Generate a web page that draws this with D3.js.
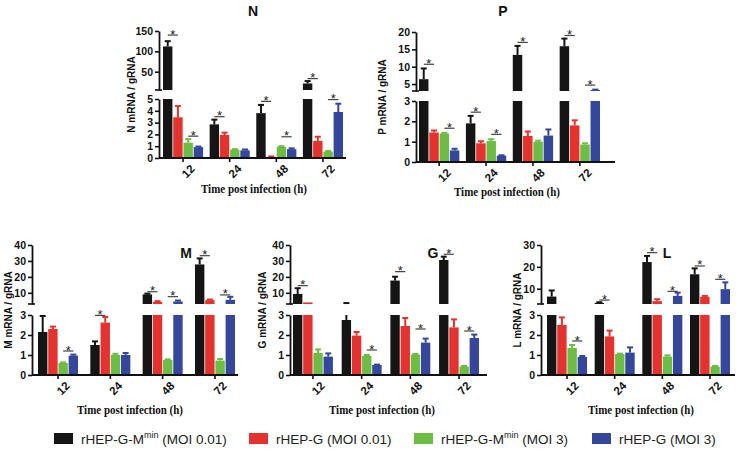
<!DOCTYPE html>
<html><head><meta charset="utf-8">
<script src="https://cdn.jsdelivr.net/npm/d3@7"></script>
<style>
body{margin:0;background:#fff}
</style>
</head><body>
<svg id="c" width="745" height="452" style="font-family:Arial,'Liberation Sans',sans-serif"></svg>
<script>
// ---------------- data ----------------
const categories = ['12','24','48','72'];
const seriesBase = ['rHEP-G-M','rHEP-G','rHEP-G-M','rHEP-G'];
const seriesSup  = ['min','','min',''];
const seriesMoi  = [' (MOI 0.01)',' (MOI 0.01)',' (MOI 3)',' (MOI 3)'];
const seriesColors = ['#151515','#e4322e','#6dbd45','#35479a'];

// mean values per series: [black, red, green, blue], each over categories 12/24/48/72
const N_mean   = [[112,2.85,3.8,21],[3.45,1.95,0.1,1.45],[1.3,0.7,0.95,0.55],[0.92,0.65,0.75,3.9]];
const N_errTop = [[125,3.25,4.5,27],[4.4,2.15,0.13,1.8],[1.6,0.75,1.0,0.6],[0.97,0.72,0.82,4.6]];
const N_stars  = [[0,0,1,140],[0,2,3,1.85],[1,0,1,3.5],[2,0,1,4.8],[2,2,3,1.8],[3,0,1,33],[3,2,3,4.95]];
const N_lowTicks = [0,1,2,3,4,5];
const N_upTicks  = [50,100,150];

const P_mean   = [[6.4,1.9,13.4,15.9],[1.45,0.92,1.28,1.8],[1.4,1.03,1.0,0.86],[0.57,0.31,1.3,3.3]];
const P_errTop = [[9.5,2.27,16,18.1],[1.55,1.02,1.5,2.05],[1.43,1.12,1.05,0.92],[0.65,0.33,1.6,3.4]];
const P_stars  = [[0,0,1,10.7],[0,2,3,1.66],[1,0,1,2.45],[1,2,3,1.36],[2,0,1,17],[3,0,1,19],[3,2,3,4.7]];
const P_lowTicks = [0,1,2,3];
const P_upTicks  = [5,10,15,20];

const M_mean   = [[2.15,1.5,9.0,27.8],[2.3,2.62,4.3,5.4],[0.6,1.0,0.75,0.72],[0.97,1.0,4.6,5.6]];
const M_errTop = [[2.95,1.68,9.5,31.6],[2.42,2.9,4.8,5.8],[0.63,1.06,0.78,0.8],[1.02,1.1,5.2,7.5]];
const M_stars  = [[0,2,3,1.2],[1,0,1,2.98],[2,0,1,10.7],[2,2,3,7.6],[3,0,1,33.3],[3,2,3,8.7]];
const M_lowTicks = [0,1,2,3];
const M_upTicks  = [10,20,30,40];

const G_mean   = [[9.3,2.75,17.7,30.6],[4.0,1.97,2.45,2.38],[1.1,0.95,1.02,0.42],[0.92,0.5,1.62,1.85]];
const G_errTop = [[12.9,3.6,20.1,32.7],[4.0,2.15,2.85,2.78],[1.28,1.0,1.05,0.45],[1.08,0.52,1.82,2.02]];
const G_stars  = [[0,0,1,14.5],[1,2,3,1.25],[2,0,1,23.3],[2,2,3,2.3],[3,0,1,34.2],[3,2,3,2.2]];
const G_lowTicks = [0,1,2,3];
const G_upTicks  = [10,20,30,40];

const L_mean   = [[6.4,3.5,22.2,16.6],[2.5,1.93,4.3,6.3],[1.35,1.05,0.92,0.42],[0.9,1.12,6.7,9.8]];
const L_errTop = [[9.2,3.8,25,19.3],[2.88,2.22,5.2,6.7],[1.5,1.07,0.98,0.45],[0.95,1.38,8.2,12.9]];
const L_stars  = [[0,2,3,1.7],[1,0,1,4.8],[2,0,1,26.5],[2,2,3,8.8],[3,0,1,20.4],[3,2,3,14.3]];
const L_lowTicks = [0,1,2,3];
const L_upTicks  = [10,20,30];

// ---------------- layout ----------------
const panels = [
  {title:'N', ylab:'N mRNA / gRNA', mean:N_mean, err:N_errTop, stars:N_stars, lowTicks:N_lowTicks, upTicks:N_upTicks,
   low:[0,5], up:[5,150], axisX:159, axisEnd:346, bandL:163, bandR:343, pi:0.14,
   lowTop:99, lowBot:158, upTop:31, upBot:90, tx:253, ty:16, ytx:131, xtx:254, xty:193},
  {title:'P', ylab:'P mRNA / gRNA', mean:P_mean, err:P_errTop, stars:P_stars, lowTicks:P_lowTicks, upTicks:P_upTicks,
   low:[0,3], up:[3,20], axisX:416, axisEnd:615, bandL:419, bandR:600, pi:0.14,
   lowTop:101, lowBot:162, upTop:32, upBot:91, tx:503, ty:16, ytx:382, xtx:507, xty:196},
  {title:'M', ylab:'M mRNA / gRNA', mean:M_mean, err:M_errTop, stars:M_stars, lowTicks:M_lowTicks, upTicks:M_upTicks,
   low:[0,3], up:[3,40], axisX:32, axisEnd:238, bandL:38, bandR:235, pi:0.235,
   lowTop:315, lowBot:375, upTop:245, upBot:304, tx:186, ty:258, ytx:8, xtx:130, xty:414},
  {title:'G', ylab:'G mRNA / gRNA', mean:G_mean, err:G_errTop, stars:G_stars, lowTicks:G_lowTicks, upTicks:G_upTicks,
   low:[0,3], up:[3,40], axisX:290, axisEnd:487, bandL:293, bandR:479, pi:0.18,
   lowTop:315, lowBot:375, upTop:245, upBot:304, tx:433, ty:258, ytx:262, xtx:382, xty:414},
  {title:'L', ylab:'L mRNA / gRNA', mean:L_mean, err:L_errTop, stars:L_stars, lowTicks:L_lowTicks, upTicks:L_upTicks,
   low:[0,3], up:[3,30], axisX:541, axisEnd:735, bandL:547, bandR:730, pi:0.16,
   lowTop:315, lowBot:375, upTop:245, upBot:304, tx:667, ty:258, ytx:517, xtx:641, xty:414}
];

const svg = d3.select('#c');
const fmt = d3.format('d');

function styleAxis(sel){
  sel.selectAll('path.domain').attr('stroke','#111').attr('stroke-width',1.8);
  sel.selectAll('.tick line').attr('stroke','#111').attr('stroke-width',1.6);
  sel.selectAll('.tick text').attr('font-size',10.5).attr('font-weight','bold').attr('fill','#111')
     .style('font-family','Arial,"Liberation Sans",sans-serif');
}

function drawPanel(p){
  const g = svg.append('g');
  const yL = d3.scaleLinear().domain(p.low).range([p.lowBot,p.lowTop]);
  const yU = d3.scaleLinear().domain(p.up).range([p.upBot,p.upTop]);
  const x = d3.scaleBand().domain(categories).range([p.bandL,p.bandR]).paddingInner(p.pi).paddingOuter(0);
  const xs = d3.scaleBand().domain(d3.range(4)).range([0,x.bandwidth()]).paddingInner(0.08);
  const Lmax = p.low[1], Umin = p.up[0];
  const bw = xs.bandwidth();
  const cx = (gi,s)=> x(categories[gi]) + xs(s) + bw/2;

  // bars
  p.mean.forEach((vals,s)=>{
    vals.forEach((v,gi)=>{
      const col = seriesColors[s];
      const x0 = x(categories[gi]) + xs(s);
      const yl = yL(Math.min(v,Lmax));
      g.append('rect').attr('x',x0).attr('y',yl).attr('width',bw).attr('height',p.lowBot-yl).attr('fill',col);
      if(v>Lmax){
        const yu = yU(v);
        g.append('rect').attr('x',x0).attr('y',yu).attr('width',bw).attr('height',p.upBot-yu).attr('fill',col);
      }
      const e = p.err[s][gi];
      const c = cx(gi,s), cap = bw*0.32;
      if(e>v+0.0001){
        if(v<Lmax){
          const ye = yL(Math.min(e,Lmax));
          g.append('line').attr('x1',c).attr('x2',c).attr('y1',yL(v)).attr('y2',ye).attr('stroke',col).attr('stroke-width',2);
          if(e<=Lmax) g.append('line').attr('x1',c-cap).attr('x2',c+cap).attr('y1',ye).attr('y2',ye).attr('stroke',col).attr('stroke-width',2);
        }
        if(e>Umin){
          const ye = yU(e);
          g.append('line').attr('x1',c).attr('x2',c).attr('y1',yU(Math.max(v,Umin))).attr('y2',ye).attr('stroke',col).attr('stroke-width',2);
          g.append('line').attr('x1',c-cap).attr('x2',c+cap).attr('y1',ye).attr('y2',ye).attr('stroke',col).attr('stroke-width',2);
        }
      }
    });
  });

  // significance stars
  p.stars.forEach(([gi,sa,sb,val])=>{
    const yy = val<=Lmax ? yL(val) : yU(val);
    const x1 = cx(gi,sa), x2 = cx(gi,sb);
    g.append('line').attr('x1',x1).attr('x2',x2).attr('y1',yy).attr('y2',yy).attr('stroke','#444').attr('stroke-width',1.2);
    g.append('text').attr('x',(x1+x2)/2).attr('y',yy+3.5).attr('text-anchor','middle')
      .attr('font-size',13).attr('fill','#222').text('*');
  });

  // y axes
  const aL = g.append('g').attr('transform',`translate(${p.axisX},0)`)
    .call(d3.axisLeft(yL).tickValues(p.lowTicks).tickFormat(fmt).tickSize(4).tickSizeOuter(0).tickPadding(2));
  const aU = g.append('g').attr('transform',`translate(${p.axisX},0)`)
    .call(d3.axisLeft(yU).tickValues(p.upTicks).tickFormat(fmt).tickSize(4).tickSizeOuter(0).tickPadding(2));
  styleAxis(aL); styleAxis(aU);
  // break mark at bottom of upper segment
  g.append('line').attr('x1',p.axisX-4).attr('x2',p.axisX+3).attr('y1',p.upBot).attr('y2',p.upBot)
    .attr('stroke','#111').attr('stroke-width',1.6);

  // x axis
  const xa = g.append('g').attr('transform',`translate(0,${p.lowBot})`)
    .call(d3.axisBottom(x).tickSize(4).tickSizeOuter(0));
  xa.select('path.domain').attr('d',`M${p.axisX},0H${p.axisEnd}`);
  styleAxis(xa);
  xa.selectAll('.tick text').attr('font-size',11.5).attr('text-anchor','end')
    .attr('transform','translate(4,3) rotate(-45)').attr('dy','0.71em').attr('y',4);

  // titles
  g.append('text').attr('x',p.tx).attr('y',p.ty).attr('text-anchor','middle').attr('font-size',14)
    .attr('font-weight','bold').attr('fill','#111').text(p.title);
  g.append('text').attr('transform',`translate(${p.ytx},${(p.upTop+p.lowBot)/2}) rotate(-90)`)
    .attr('text-anchor','middle').attr('dy','0.35em').attr('font-size',10).attr('font-weight','bold')
    .attr('fill','#111').text(p.ylab);
  g.append('text').attr('x',p.xtx).attr('y',p.xty).attr('text-anchor','middle')
    .style('font-family','"Liberation Serif","Times New Roman",serif').attr('font-size',13.5).attr('font-weight','bold')
    .attr('textLength',106).attr('lengthAdjust','spacingAndGlyphs')
    .attr('fill','#111').text('Time post infection (h)');
}

panels.forEach(drawPanel);

// legend
const legendX = [54, 249, 414, 592];
const lg = svg.append('g');
seriesBase.forEach((name,i)=>{
  lg.append('rect').attr('x',legendX[i]).attr('y',433).attr('width',19).attr('height',11).attr('fill',seriesColors[i]);
  const t = lg.append('text').attr('x',legendX[i]+27).attr('y',444).attr('font-size',13.5).attr('fill','#222');
  t.append('tspan').text(name);
  if(seriesSup[i]) t.append('tspan').attr('dy',-6).attr('font-size',9).text(seriesSup[i]);
  t.append('tspan').attr('dy',seriesSup[i]?6:0).text(seriesMoi[i]);
});
</script>
</body></html>
